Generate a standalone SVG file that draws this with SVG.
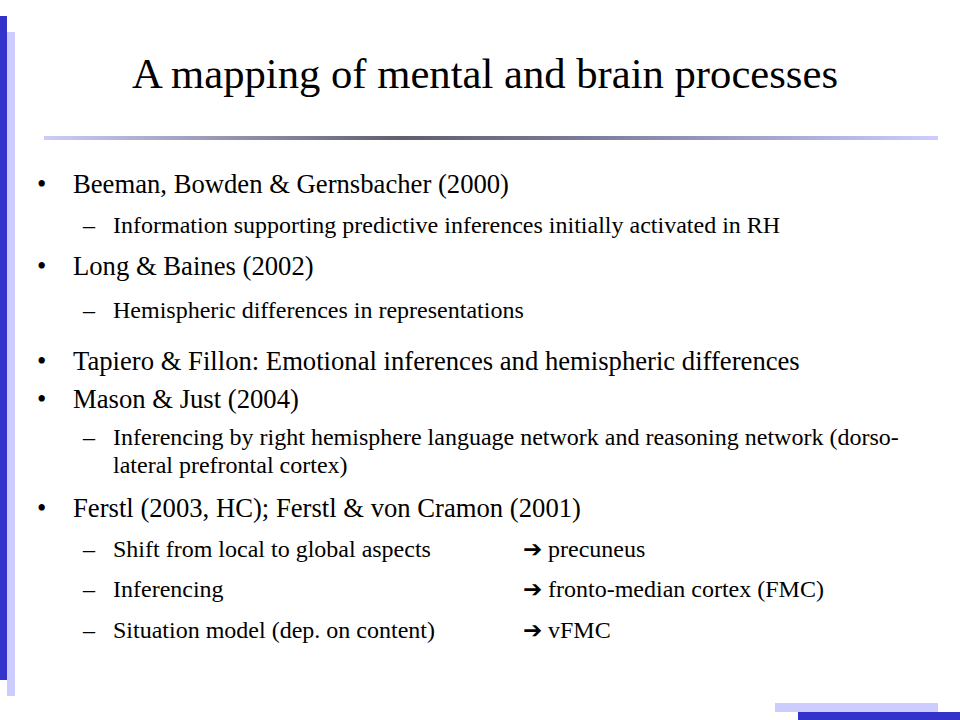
<svg xmlns="http://www.w3.org/2000/svg" width="960" height="720" viewBox="0 0 960 720">
<defs>
<linearGradient id="rule" x1="0" y1="0" x2="1" y2="0">
<stop offset="0" stop-color="#ccccf6"/>
<stop offset="0.4" stop-color="#5f5f70"/>
<stop offset="0.6" stop-color="#7a7a9a"/>
<stop offset="1" stop-color="#ccccff"/>
</linearGradient>
<style>
text{font-family:'Liberation Serif',Tinos,'DejaVu Serif',serif;fill:#000}
.title{font-size:42.67px}
.l1{font-size:26.67px}
.l2{font-size:24px}
text.arr{font-family:'DejaVu Sans',sans-serif;font-size:23px;font-weight:bold}
.dark{fill:#3333cc}
.light{fill:#ccccff}
</style>
</defs>
<rect width="960" height="720" fill="#ffffff"/>
<g id="decor">
<rect class="dark" x="0" y="16" width="7" height="664"/>
<rect class="light" x="7" y="32" width="8" height="664"/>
<rect class="light" x="775" y="703" width="163" height="9"/>
<rect class="dark" x="798" y="712" width="162" height="8"/>
<rect x="44" y="136" width="894" height="4" fill="url(#rule)"/>
</g>
<g id="title"><text class="title" font-family="Liberation Serif, serif" x="485" y="88" text-anchor="middle">A mapping of mental and brain processes</text></g>
<g id="item-beeman" font-family="Liberation Serif, serif">
<text class="l1" x="37" y="193">•</text>
<text class="l1" x="73" y="193">Beeman, Bowden &amp; Gernsbacher (2000)</text>
<text class="l2" x="83" y="233">–</text>
<text class="l2" x="113" y="233">Information supporting predictive inferences initially activated in RH</text>
</g>
<g id="item-long" font-family="Liberation Serif, serif">
<text class="l1" x="37" y="275">•</text>
<text class="l1" x="73" y="275">Long &amp; Baines (2002)</text>
<text class="l2" x="83" y="318">–</text>
<text class="l2" x="113" y="318">Hemispheric differences in representations</text>
</g>
<g id="item-tapiero" font-family="Liberation Serif, serif">
<text class="l1" x="37" y="370">•</text>
<text class="l1" x="73" y="370">Tapiero &amp; Fillon: Emotional inferences and hemispheric differences</text>
</g>
<g id="item-mason" font-family="Liberation Serif, serif">
<text class="l1" x="37" y="408">•</text>
<text class="l1" x="73" y="408">Mason &amp; Just (2004)</text>
<text class="l2" x="83" y="445">–</text>
<text class="l2" x="113" y="445">Inferencing by right hemisphere language network and reasoning network (dorso-</text>
<text class="l2" x="113" y="473">lateral prefrontal cortex)</text>
</g>
<g id="item-ferstl" font-family="Liberation Serif, serif">
<text class="l1" x="37" y="517">•</text>
<text class="l1" x="73" y="517">Ferstl (2003, HC); Ferstl &amp; von Cramon (2001)</text>
<text class="l2" x="83" y="557">–</text>
<text class="l2" x="113" y="557">Shift from local to global aspects</text>
<text class="arr" x="523" y="557">➔</text>
<text class="l2" x="548" y="557">precuneus</text>
<text class="l2" x="83" y="597">–</text>
<text class="l2" x="113" y="597">Inferencing</text>
<text class="arr" x="523" y="597">➔</text>
<text class="l2" x="548" y="597">fronto-median cortex (FMC)</text>
<text class="l2" x="83" y="638">–</text>
<text class="l2" x="113" y="638">Situation model (dep. on content)</text>
<text class="arr" x="523" y="638">➔</text>
<text class="l2" x="548" y="638">vFMC</text>
</g>
</svg>
